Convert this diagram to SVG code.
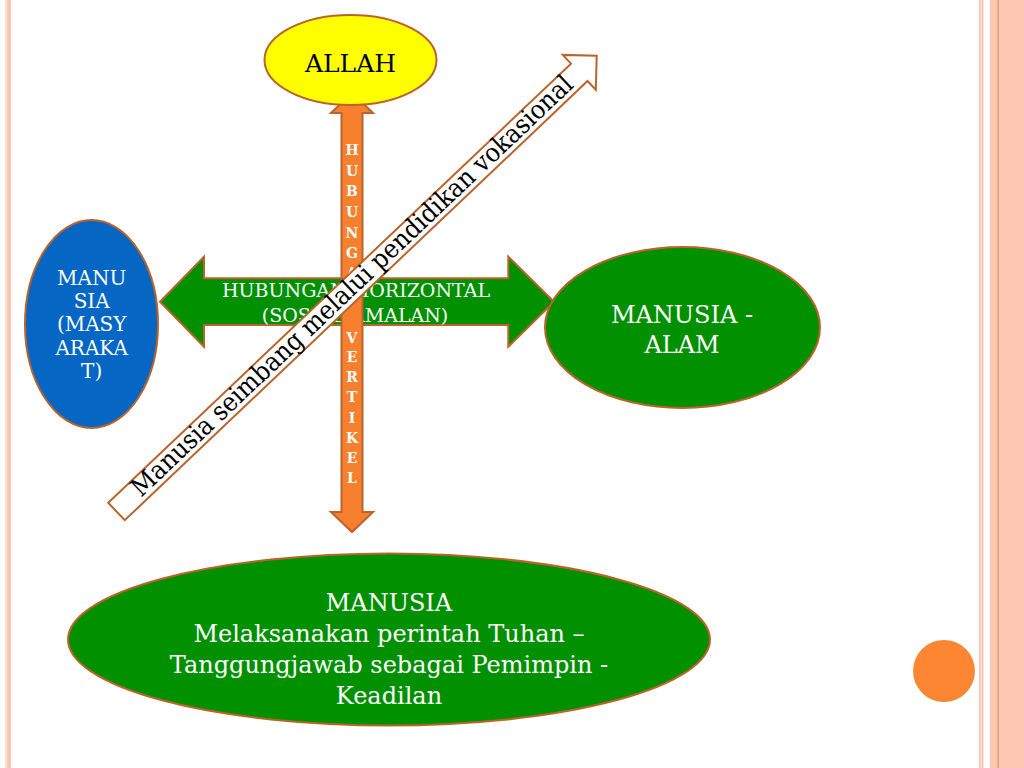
<svg xmlns="http://www.w3.org/2000/svg" width="1024" height="768" viewBox="0 0 1024 768">
<style>
.stk{stroke:#BA642B;stroke-width:2}
.t{font-family:"DejaVu Serif","Liberation Serif",serif;text-anchor:middle}
.w{fill:#FFFFFF}
.vl{font-family:"DejaVu Serif","Liberation Serif",serif;font-size:14px;font-weight:bold;fill:#FFFFFF;text-anchor:middle}
</style>
<rect width="1024" height="768" fill="#FFFFFF"/>
<g id="frame">
<rect x="5" y="0" width="1.5" height="768" fill="#F9D9CC"/>
<rect x="7" y="0" width="4" height="768" fill="#FAC6B2"/>
<rect x="979" y="0" width="4.5" height="768" fill="#FAC6B2"/>
<rect x="980.5" y="0" width="1.5" height="768" fill="#FCE0D5"/>
<rect x="990" y="0" width="34" height="768" fill="#FCC8B3"/>
<rect x="997.5" y="0" width="1.5" height="768" fill="#E49A78"/>
<circle cx="944" cy="671" r="31" fill="#FD8633"/>
</g>
<g id="connectors">
<g id="horizontal-arrow">
<polygon class="stk" fill="#009000" points="160,301.7 204,256.7 204,278.3 508.3,278.3 508.3,256.7 554,301.7 508.3,346.7 508.3,325 204,325 204,346.7"/>
<text class="t w" x="356" y="297" font-size="19">HUBUNGAN HORIZONTAL</text>
<text class="t w" x="355" y="322" font-size="19">(SOSIAL-AMALAN)</text>
</g>
<g id="vertical-arrow">
<polygon class="stk" fill="#F7802F" points="352,93 373,113 362.5,113 362.5,512 373,512 352,532 331,512 341.5,512 341.5,113 331,113"/>
<text class="vl" x="352" y="154.5">H</text>
<text class="vl" x="352" y="175.5">U</text>
<text class="vl" x="352" y="195.5">B</text>
<text class="vl" x="352" y="216.5">U</text>
<text class="vl" x="352" y="237.5">N</text>
<text class="vl" x="352" y="257.5">G</text>
<text class="vl" x="352" y="277.5">A</text>
<text class="vl" x="352" y="342.5">V</text>
<text class="vl" x="352" y="361.5">E</text>
<text class="vl" x="352" y="381.5">R</text>
<text class="vl" x="352" y="401.5">T</text>
<text class="vl" x="352" y="422.5">I</text>
<text class="vl" x="352" y="442.5">K</text>
<text class="vl" x="352" y="462.5">E</text>
<text class="vl" x="352" y="482.5">L</text>
</g>
</g>
<g id="allah">
<ellipse class="stk" cx="350.5" cy="60" rx="86" ry="45" fill="#FFFF00"/>
<text class="t" x="350.5" y="72" font-size="25" fill="#000000">ALLAH</text>
</g>
<g id="manusia-alam">
<ellipse class="stk" cx="682.5" cy="327.5" rx="137.5" ry="80.5" fill="#009000"/>
<text class="t w" x="682" y="323" font-size="24">MANUSIA -</text>
<text class="t w" x="682" y="353" font-size="24">ALAM</text>
</g>
<g id="manusia-masyarakat">
<ellipse class="stk" cx="91.5" cy="324" rx="66.5" ry="104" fill="#0566C4"/>
<text class="t w" x="91.7" y="285" font-size="20">MANU</text>
<text class="t w" x="91.7" y="308" font-size="20">SIA</text>
<text class="t w" x="91.7" y="331" font-size="20">(MASY</text>
<text class="t w" x="91.7" y="355" font-size="20">ARAKA</text>
<text class="t w" x="91.7" y="378" font-size="20">T)</text>
</g>
<g id="manusia-bottom">
<ellipse class="stk" cx="389" cy="639.5" rx="321" ry="86" fill="#009000"/>
<text class="t w" x="389" y="611" font-size="24">MANUSIA</text>
<text class="t w" x="389" y="642" font-size="24">Melaksanakan perintah Tuhan –</text>
<text class="t w" x="389" y="673" font-size="24">Tanggungjawab sebagai Pemimpin -</text>
<text class="t w" x="389" y="704" font-size="24">Keadilan</text>
</g>
<g id="diagonal-arrow" transform="translate(116.5,511.5) rotate(-43.5)">
<polygon class="stk" fill="#FFFFFF" points="0,-12 638,-12 638,-24 662,0 638,24 638,12 0,12"/>
<text class="t" x="326" y="7" font-size="26" fill="#000000" textLength="598" lengthAdjust="spacingAndGlyphs">Manusia seimbang melalui pendidikan vokasional</text>
</g>
</svg>
